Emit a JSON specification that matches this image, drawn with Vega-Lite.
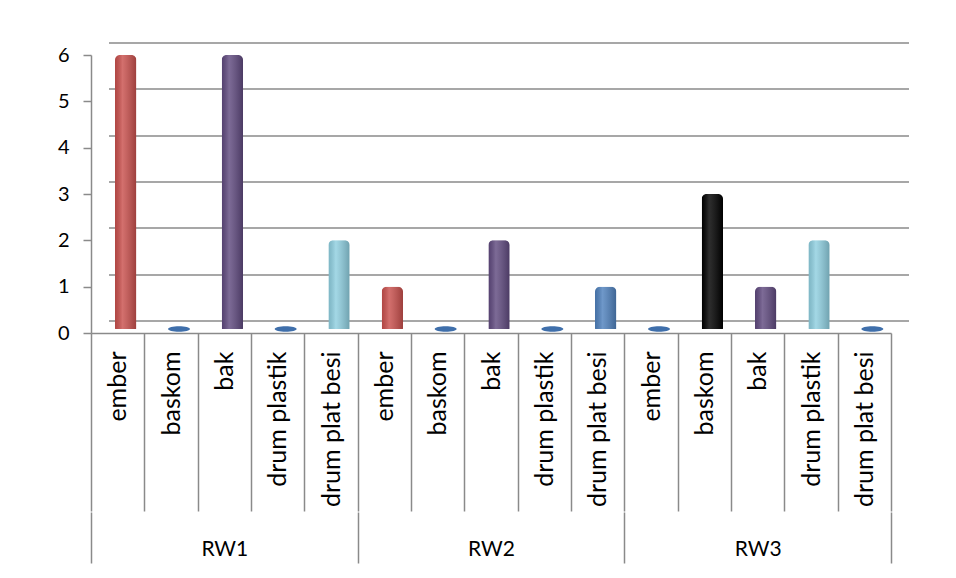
{
  "$schema": "https://vega.github.io/schema/vega-lite/v6.json",
  "autosize": "none",
  "width": 800,
  "height": 278,
  "padding": {"left": 91, "top": 55, "right": 60, "bottom": 240},
  "background": "white",
  "config": {
    "view": {"stroke": null},
    "font": "Lato",
    "axis": {"labelFont": "Lato", "labelColor": "#000000", "title": null}
  },
  "data": {
    "values": [
      {"rw": "RW1", "item": "ember", "key": "RW1|ember", "value": 6},
      {"rw": "RW1", "item": "baskom", "key": "RW1|baskom", "value": 0},
      {"rw": "RW1", "item": "bak", "key": "RW1|bak", "value": 6},
      {"rw": "RW1", "item": "drum plastik", "key": "RW1|drum plastik", "value": 0},
      {"rw": "RW1", "item": "drum plat besi", "key": "RW1|drum plat besi", "value": 2},
      {"rw": "RW2", "item": "ember", "key": "RW2|ember", "value": 1},
      {"rw": "RW2", "item": "baskom", "key": "RW2|baskom", "value": 0},
      {"rw": "RW2", "item": "bak", "key": "RW2|bak", "value": 2},
      {"rw": "RW2", "item": "drum plastik", "key": "RW2|drum plastik", "value": 0},
      {"rw": "RW2", "item": "drum plat besi", "key": "RW2|drum plat besi", "value": 1},
      {"rw": "RW3", "item": "ember", "key": "RW3|ember", "value": 0},
      {"rw": "RW3", "item": "baskom", "key": "RW3|baskom", "value": 3},
      {"rw": "RW3", "item": "bak", "key": "RW3|bak", "value": 1},
      {"rw": "RW3", "item": "drum plastik", "key": "RW3|drum plastik", "value": 2},
      {"rw": "RW3", "item": "drum plat besi", "key": "RW3|drum plat besi", "value": 0}
    ]
  },
  "layer": [
    {
      "mark": {"type": "bar", "opacity": 0},
      "encoding": {
        "x": {
          "field": "rw", "type": "nominal", "sort": null,
          "scale": {"paddingInner": 0, "paddingOuter": 0},
          "axis": {
            "orient": "bottom", "offset": 179, "domain": false, "domainOpacity": 0, "domainColor": "white", "domainWidth": 0,
            "tickBand": "extent", "tickSize": 51, "tickColor": "#8a8a8a", "tickWidth": 1.5,
            "labelAngle": 0, "labelFontSize": 21, "labelPadding": -25, "labelBaseline": "top"
          }
        },
        "y": {
          "field": "value", "type": "quantitative",
          "scale": {"domain": [0, 6]},
          "axis": {
            "orient": "left", "grid": true, "gridColor": "#8a8a8a", "gridWidth": 1.5,
            "translate": 18, "tickOffset": -30, "labels": false, "ticks": false, "domain": false,
            "values": [0, 1, 2, 3, 4, 5, 6], "zindex": 0
          }
        }
      }
    },
    {
      "layer": [
        {
          "transform": [{"filter": "datum.value > 0"}],
          "mark": {"type": "bar", "width": {"band": 0.4}, "xOffset": 8, "yOffset": -4, "y2Offset": -4, "cornerRadius": 5},
          "encoding": {
            "x": {
              "field": "key", "type": "nominal", "sort": null,
              "scale": {"paddingInner": 0, "paddingOuter": 0,
                "domain": ["RW1|ember","RW1|baskom","RW1|bak","RW1|drum plastik","RW1|drum plat besi","RW2|ember","RW2|baskom","RW2|bak","RW2|drum plastik","RW2|drum plat besi","RW3|ember","RW3|baskom","RW3|bak","RW3|drum plastik","RW3|drum plat besi"]},
              "axis": {
                "orient": "bottom", "domainColor": "#8a8a8a", "domainWidth": 1.5,
                "tickBand": "extent", "tickSize": 178, "tickColor": "#8a8a8a", "tickWidth": 1.5,
                "labelAngle": -90, "labelFontSize": 25, "labelPadding": -160,
                "labelExpr": "split(datum.label, '|')[1]"
              }
            },
            "y": {
              "field": "value", "type": "quantitative",
              "axis": {
                "orient": "left", "grid": false, "values": [0, 1, 2, 3, 4, 5, 6],
                "domainColor": "#8a8a8a", "domainWidth": 1.5, "tickColor": "#8a8a8a", "tickWidth": 1.5,
                "tickSize": 8, "labelFontSize": 20, "labelPadding": 14
              }
            },
            "color": {
              "field": "key", "type": "nominal", "legend": null,
              "scale": {
                "domain": ["RW1|ember","RW1|bak","RW1|drum plat besi","RW2|ember","RW2|bak","RW2|drum plat besi","RW3|baskom","RW3|bak","RW3|drum plastik"],
                "range": ["#c9504d","#604a7f","#8fcfe0","#c9504d","#604a7f","#4f81bd","#000000","#604a7f","#8fcfe0"]
              }
            }
          }
        },
        {
          "transform": [{"filter": "datum.value > 0"}],
          "mark": {
            "type": "bar", "width": {"band": 0.4}, "xOffset": 8, "yOffset": -4, "y2Offset": -4, "cornerRadius": 5,
            "fill": {
              "gradient": "linear", "x1": 0, "x2": 1, "y1": 0, "y2": 0,
              "stops": [
                {"offset": 0, "color": "rgba(0,0,0,0.12)"},
                {"offset": 0.35, "color": "rgba(255,255,255,0.18)"},
                {"offset": 1, "color": "rgba(0,0,0,0.22)"}
              ]
            }
          },
          "encoding": {
            "x": {"field": "key", "type": "nominal", "sort": null},
            "y": {"field": "value", "type": "quantitative"}
          }
        },
        {
          "transform": [{"filter": "datum.value == 0"}],
          "mark": {"type": "point", "filled": true, "opacity": 1, "shape": "M-1,0A1,0.25,0,1,1,1,0A1,0.25,0,1,1,-1,0Z", "size": 484, "xOffset": 8, "yOffset": -4, "color": "#3f6fab"},
          "encoding": {
            "x": {"field": "key", "type": "nominal", "sort": null},
            "y": {"field": "value", "type": "quantitative"}
          }
        }
      ]
    }
  ],
  "resolve": {"scale": {"x": "independent"}, "axis": {"y": "independent", "x": "independent"}}
}
